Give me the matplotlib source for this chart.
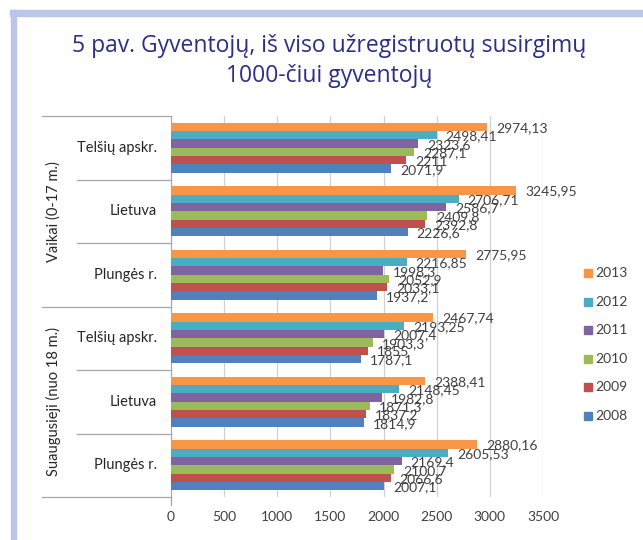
import matplotlib.pyplot as plt
from matplotlib.patches import Rectangle

plt.rcParams['font.family'] = ['Lato', 'DejaVu Sans']

# rows from top to bottom
groups = ["Vaikai (0-17 m.)", "Suaugusieji (nuo 18 m.)"]
places = ["Telšių apskr.", "Lietuva", "Plungės r."]
years = ["2008", "2009", "2010", "2011", "2012", "2013"]
colors = ["#4F81BD", "#C0504D", "#9BBB59", "#8064A2", "#4BACC6", "#F79646"]

# values per year, rows in order: Vaikai Telšių, Lietuva, Plungės, Suaugusieji Telšių, Lietuva, Plungės
v2008 = [2071.9, 2226.6, 1937.2, 1787.1, 1814.9, 2007.1]
v2009 = [2211, 2392.8, 2033.1, 1855, 1837.2, 2066.6]
v2010 = [2287.1, 2409.8, 2052.9, 1903.3, 1871.3, 2100.7]
v2011 = [2323.6, 2586.7, 1998.3, 2007.4, 1982.8, 2169.4]
v2012 = [2498.41, 2706.71, 2216.85, 2193.25, 2148.45, 2605.53]
v2013 = [2974.13, 3245.95, 2775.95, 2467.74, 2388.41, 2880.16]
series = [v2008, v2009, v2010, v2011, v2012, v2013]

fig = plt.figure(figsize=(6.43, 5.40), dpi=100)

# light frame like the source page
fig.patches.append(Rectangle((10 / 643, 1 - 16 / 540), 1, 6 / 540, transform=fig.transFigure,
                             color="#bcc6ea", zorder=0))
fig.patches.append(Rectangle((11 / 643, 0), 5 / 643, 1 - 10 / 540, transform=fig.transFigure,
                             color="#bcc6ea", zorder=0))

title_font = ["Open Sans", "DejaVu Sans"]
fig.text(0.512, 1 - 46 / 540, "5 pav. Gyventojų, iš viso užregistruotų susirgimų",
         ha="center", va="center", fontsize=16.5, color="#2b2f86", family=title_font)
fig.text(0.512, 1 - 76 / 540, "1000-čiui gyventojų",
         ha="center", va="center", fontsize=16.5, color="#2b2f86", family=title_font)

ax = fig.add_axes([171 / 643, 1 - 497 / 540, 372 / 643, 381 / 540])

h = 0.79 / 6
for j, (vals, col) in enumerate(zip(series, colors)):
    ys = [i + (2.5 - j) * h for i in range(len(vals))]
    ax.barh(ys, vals, height=h, color=col, zorder=3)
    for y, v in zip(ys, vals):
        txt = f"{v:g}".replace(".", ",")
        ax.text(v + 85, y + 0.02, txt, va="center", ha="left", fontsize=10,
                color="#404040", zorder=4)

ax.set_xlim(0, 3500)
ax.set_ylim(5.5, -0.5)
ax.set_xticks(range(0, 3501, 500))
ax.set_yticks([])
ax.tick_params(axis="x", length=0, labelsize=10, labelcolor="#404040", pad=10)
ax.grid(axis="x", color="#d0d0d0", linewidth=0.9, zorder=0)
for s in ["top", "right", "bottom"]:
    ax.spines[s].set_visible(False)
ax.spines["left"].set_color("#a6a6a6")

# multi-level category axis
tr = ax.get_yaxis_transform()
for k in range(7):
    x0 = -0.347 if k % 3 == 0 else -0.253
    ax.plot([x0, 0], [k - 0.5, k - 0.5], transform=tr, color="#a6a6a6", lw=0.9, clip_on=False)
ax.plot([0, 0], [5.5, 5.62], transform=tr, color="#a6a6a6", lw=0.9, clip_on=False)
for gi, g in enumerate(groups):
    for pi, p in enumerate(places):
        ax.text(-0.038, gi * 3 + pi, p, transform=tr, ha="right", va="center",
                fontsize=10.5, color="#262626")
    ax.text(-0.315, gi * 3 + 1, g, transform=tr, ha="center", va="center",
            rotation=90, fontsize=10.5, color="#262626")

# legend, 2013 on top
for k, (yr, col) in enumerate(zip(years[::-1], colors[::-1])):
    yy = 1 - (273 + k * 28.6) / 540
    fig.patches.append(Rectangle((584 / 643, yy - 4 / 540), 8 / 643, 8 / 540,
                                 transform=fig.transFigure, color=col))
    fig.text(595 / 643, yy, yr, ha="left", va="center", fontsize=10, color="#404040")

fig.savefig("out.png", dpi=100)
